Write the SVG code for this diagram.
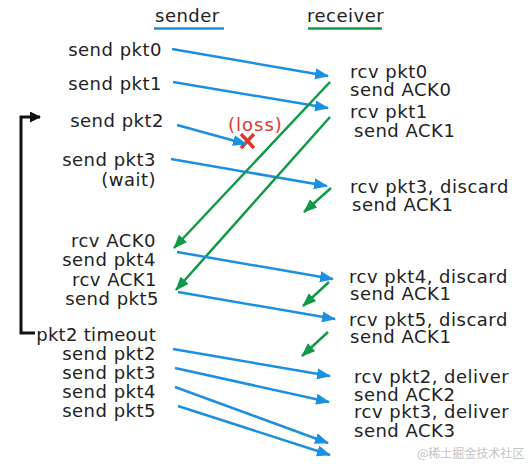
<svg xmlns="http://www.w3.org/2000/svg" width="529" height="473" viewBox="0 0 529 473">
<defs>
<style>
text{font-family:"DejaVu Sans","Liberation Sans",sans-serif;font-size:18px;fill:#222;letter-spacing:0.5px}
.l{text-anchor:end}
.b{stroke:#1b8fe0;stroke-width:2.5;fill:none}
.g{stroke:#109a48;stroke-width:2.5;fill:none}
.b{marker-end:url(#ab)}
.g{marker-end:url(#ag)}
</style>
<marker id="ab" markerUnits="userSpaceOnUse" markerWidth="15" markerHeight="12" refX="13" refY="5.5" orient="auto"><path d="M0,0 L14,5.5 L0,11 z" fill="#1b8fe0"/></marker>
<marker id="ag" markerUnits="userSpaceOnUse" markerWidth="15" markerHeight="12" refX="13" refY="5.5" orient="auto"><path d="M0,0 L14,5.5 L0,11 z" fill="#109a48"/></marker>
<marker id="ak" markerUnits="userSpaceOnUse" markerWidth="14" markerHeight="12" refX="10" refY="5.5" orient="auto"><path d="M0,0 L11,5.5 L0,11 z" fill="#111"/></marker>
</defs>
<g id="headers">
<text x="155" y="22">sender</text>
<line x1="154" y1="28.5" x2="224" y2="28.5" stroke="#1b8fe0" stroke-width="2.5"/>
<text x="307" y="22">receiver</text>
<line x1="308" y1="28.5" x2="382" y2="28.5" stroke="#109a48" stroke-width="2.5"/>
</g>
<g id="sender">
<text class="l" x="162" y="56">send pkt0</text>
<text class="l" x="162" y="90">send pkt1</text>
<text class="l" x="164" y="127">send pkt2</text>
<text class="l" x="156" y="166">send pkt3</text>
<text class="l" x="156" y="186">(wait)</text>
<text class="l" x="156" y="247">rcv ACK0</text>
<text class="l" x="156" y="266">send pkt4</text>
<text class="l" x="157" y="286">rcv ACK1</text>
<text class="l" x="159" y="305">send pkt5</text>
<text class="l" x="156" y="341" style="letter-spacing:0.3px">pkt2 timeout</text>
<text class="l" x="156" y="360">send pkt2</text>
<text class="l" x="156" y="379">send pkt3</text>
<text class="l" x="156" y="398">send pkt4</text>
<text class="l" x="156" y="417">send pkt5</text>
</g>
<g id="receiver">
<text x="350" y="78">rcv pkt0</text>
<text x="350" y="96">send ACK0</text>
<text x="350" y="118">rcv pkt1</text>
<text x="354" y="137">send ACK1</text>
<text x="350" y="193">rcv pkt3, discard</text>
<text x="352" y="211">send ACK1</text>
<text x="349" y="283">rcv pkt4, discard</text>
<text x="350" y="300">send ACK1</text>
<text x="349" y="326">rcv pkt5, discard</text>
<text x="350" y="343">send ACK1</text>
<text x="354" y="383">rcv pkt2, deliver</text>
<text x="354" y="401">send ACK2</text>
<text x="354" y="418">rcv pkt3, deliver</text>
<text x="354" y="437">send ACK3</text>
</g>
<g id="loss">
<text x="228" y="131" style="fill:#e0392b;letter-spacing:1px">(loss)</text>
<path d="M241,134 L254,148 M254,134 L241,148" stroke="#e0392b" stroke-width="3.5"/>
</g>
<g id="timeout-bracket">
<path d="M35,333 L21,333 L21,117 L40,117" fill="none" stroke="#111" stroke-width="3" marker-end="url(#ak)"/>
</g>
<g id="connectors">
<line class="b" x1="172" y1="49" x2="328" y2="76"/>
<line class="b" x1="173" y1="82" x2="328" y2="108"/>
<line class="b" x1="177" y1="125" x2="246" y2="144"/>
<line class="b" x1="171" y1="159" x2="327" y2="186"/>
<line class="g" x1="330" y1="82" x2="174" y2="248"/>
<line class="g" x1="330" y1="117" x2="176" y2="290"/>
<line class="g" x1="331" y1="188" x2="304" y2="212"/>
<line class="b" x1="177" y1="252" x2="333" y2="279"/>
<line class="b" x1="178" y1="292" x2="335" y2="319"/>
<line class="g" x1="329" y1="282" x2="303" y2="306"/>
<line class="g" x1="328" y1="332" x2="302" y2="356"/>
<line class="b" x1="173" y1="349" x2="330" y2="376"/>
<line class="b" x1="175" y1="368" x2="329" y2="402"/>
<line class="b" x1="175" y1="387" x2="328" y2="443"/>
<line class="b" x1="178" y1="406" x2="330" y2="455"/>
</g>
<text x="417" y="458" style="font-family:'Noto Sans CJK SC',sans-serif;font-size:12px;fill:#c4c4c4;letter-spacing:0">@稀土掘金技术社区</text>
</svg>
